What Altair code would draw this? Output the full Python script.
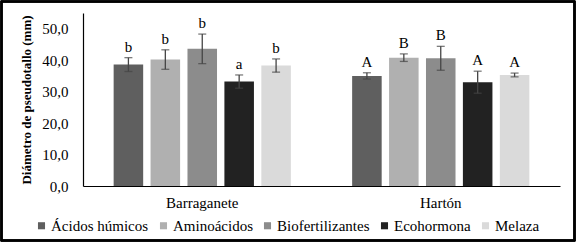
import altair as alt
import pandas as pd

varieties = ["Barraganete", "Hartón"]
treatments = ["Ácidos húmicos", "Aminoácidos", "Biofertilizantes", "Ecohormona", "Melaza"]
colors = ["#5f5f5f", "#b0b0b0", "#8c8c8c", "#222222", "#dadada"]

barraganete_mean = [38.6, 40.2, 43.6, 33.2, 38.3]
barraganete_sd = [2.2, 3.1, 4.7, 2.1, 2.1]
barraganete_letter = ["b", "b", "b", "a", "b"]

harton_mean = [35.0, 40.8, 40.6, 33.0, 35.3]
harton_sd = [1.0, 1.2, 3.8, 3.5, 0.6]
harton_letter = ["A", "B", "B", "A", "A"]

rows = []
for v, means, sds, lets in [
    ("Barraganete", barraganete_mean, barraganete_sd, barraganete_letter),
    ("Hartón", harton_mean, harton_sd, harton_letter),
]:
    for t, m, s, l in zip(treatments, means, sds, lets):
        rows.append({"variedad": v, "tratamiento": t, "media": m,
                     "lo": m - s, "hi": m + s, "letra": l})
df = pd.DataFrame(rows)

FONT = "Liberation Serif"
W, H = 477, 173

x_scale = alt.Scale(paddingInner=0, paddingOuter=0)
x_axis_def = alt.Axis(title=None, labelAngle=0, ticks=False, domainColor="#000000",
                      domainWidth=1.2, labelFont=FONT, labelFontSize=15,
                      labelColor="#000000", labelPadding=9)
y_axis_def = alt.Axis(title="Diámetro de pseudotallo (mm)", values=[0, 10, 20, 30, 40, 50],
                      format=".1f", labelExpr="replace(datum.label, '.', ',')",
                      labelOverlap=False,
                      grid=False, ticks=False, domainColor="#000000", domainWidth=1.2,
                      labelFont=FONT, labelFontSize=15, labelColor="#000000",
                      labelPadding=15, titleFont=FONT, titleFontSize=13,
                      titleFontWeight="bold", titleColor="#000000", titlePadding=8)
y_scale = alt.Scale(domain=[0, 55], nice=False)

x_enc = alt.X("variedad:N", sort=varieties, scale=x_scale, axis=x_axis_def)
xo_enc = alt.XOffset("tratamiento:N", sort=treatments,
                     scale=alt.Scale(paddingInner=0.2, paddingOuter=0.83))


def yq(field):
    return alt.Y(f"{field}:Q", scale=y_scale, axis=y_axis_def)


bars = alt.Chart(df).mark_bar().encode(
    x=x_enc,
    xOffset=xo_enc,
    y=yq("media"),
    color=alt.Color("tratamiento:N", sort=treatments,
                    scale=alt.Scale(domain=treatments, range=colors),
                    legend=alt.Legend(title=None, orient="none", direction="horizontal",
                                      legendX=-49, legendY=205, symbolType="square",
                                      symbolSize=50, symbolStrokeWidth=0,
                                      labelFont=FONT, labelFontSize=15, labelColor="#000000",
                                      columnPadding=7, labelOffset=2)),
)

EC = "#454545"
err = alt.Chart(df).mark_rule(color=EC, strokeWidth=1.3).encode(
    x=x_enc, xOffset=xo_enc, y=yq("lo"), y2="hi:Q",
)
cap_hi = alt.Chart(df).mark_tick(color=EC, thickness=1.3, size=8, orient="horizontal").encode(
    x=x_enc, xOffset=xo_enc, y=yq("hi"),
)
cap_lo = alt.Chart(df).mark_tick(color=EC, thickness=1.3, size=8, orient="horizontal").encode(
    x=x_enc, xOffset=xo_enc, y=yq("lo"),
)
letters = alt.Chart(df).mark_text(font=FONT, fontSize=15, color="#000000",
                                  baseline="alphabetic", dy=-6).encode(
    x=x_enc, xOffset=xo_enc, y=yq("hi"), text="letra:N",
)

frame = alt.Chart(df).mark_rect(fill=None, stroke="#000000", strokeWidth=1.5).encode(
    x=alt.value(-81.5), x2=alt.value(W + 14.5), y=alt.value(-11.5), y2=alt.value(H + 54.5)
)

chart = alt.layer(bars, err, cap_hi, cap_lo, letters, frame).properties(
    width=W, height=H,
    autosize=alt.AutoSizeParams(type="none"),
    padding={"left": 83, "top": 13, "right": 16, "bottom": 56},
).configure(
    background="#ffffff", font=FONT
).configure_view(stroke=None)

chart.save("out.html", embed_options={"renderer": "svg", "actions": False})
